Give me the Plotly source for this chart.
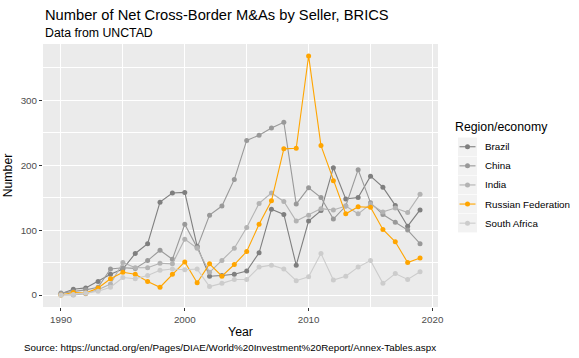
import plotly.graph_objects as go

years = list(range(1990, 2020))

brazil = [2, 9, 11, 21, 32, 40, 64, 79, 143, 157, 158, 75, 29, 30, 32, 37, 65, 132, 124, 46,
          114, 130, 196, 148, 150, 183, 166, 138, 106, 131]
china = [3, 5, 8, 12, 40, 42, 41, 53, 69, 55, 109, 73, 123, 137, 178, 238, 246, 257, 266, 140,
         165, 150, 117, 137, 193, 142, 124, 112, 100, 79]
india = [0, 0, 2, 8, 17, 50, 42, 42, 49, 48, 86, 72, 35, 53, 72, 104, 141, 157, 144, 114,
         123, 133, 131, 137, 125, 140, 128, 134, 127, 155]
russia = [0, 4, 3, 11, 25, 35, 32, 21, 12, 32, 51, 19, 48, 29, 47, 67, 109, 145, 225, 226,
          368, 230, 176, 125, 136, 135, 101, 82, 50, 57]
safrica = [0, 1, 3, 6, 12, 27, 25, 30, 38, 40, 39, 40, 13, 18, 24, 24, 43, 46, 40, 22,
           28, 64, 23, 29, 43, 53, 18, 33, 24, 36]

series_names = ["Brazil", "China", "India", "Russian Federation", "South Africa"]
series_values = [brazil, china, india, russia, safrica]
series_colors = ["#7F7F7F", "#999999", "#B3B3B3", "#FFA500", "#CCCCCC"]

x_ticks = [1990, 2000, 2010, 2020]
y_ticks = [0, 100, 200, 300]

title = "Number of Net Cross-Border M&As by Seller, BRICS"
subtitle = "Data from UNCTAD"
caption = "Source: https://unctad.org/en/Pages/DIAE/World%20Investment%20Report/Annex-Tables.aspx"
legend_title = "Region/economy"

W, H = 579, 358
PL, PR, PT, PB = 43, 438, 44, 307
FONT = "Liberation Sans, Arial, sans-serif"

def px_x(p):
    return (p - PL) / (PR - PL)

def px_y(p):
    return (PB - p) / (PB - PT)

fig = go.Figure()
for name, vals, col in zip(series_names, series_values, series_colors):
    fig.add_trace(go.Scatter(x=years, y=vals, name=name, mode="lines+markers",
                             line=dict(color=col, width=1.1),
                             marker=dict(color=col, size=5),
                             showlegend=False))

xmin, xmax = min(years), max(years)
xs = xmax - xmin
allv = [v for s in series_values for v in s]
ymin, ymax = min(allv), max(allv)
ys = ymax - ymin

axis_common = dict(showgrid=True, gridcolor="white", gridwidth=1.1, zeroline=False,
                   ticks="outside", ticklen=3, tickwidth=1.1, tickcolor="#333333",
                   tickfont=dict(family=FONT, size=9.8, color="#4D4D4D"),
                   showline=False, automargin=False)

fig.update_layout(
    width=W, height=H,
    margin=dict(l=PL, r=W - PR, t=PT, b=H - PB, pad=0, autoexpand=False),
    paper_bgcolor="white", plot_bgcolor="#EBEBEB",
    font=dict(family=FONT, color="black"),
    xaxis=dict(range=[xmin - 0.05 * xs, xmax + 0.05 * xs], tickvals=x_ticks,
               minor=dict(tickvals=[1995, 2005, 2015], showgrid=True, gridcolor="white",
                          gridwidth=0.55, ticks=""),
               title=dict(text="Year", font=dict(family=FONT, size=12.3, color="black"),
                          standoff=3),
               **axis_common),
    yaxis=dict(range=[ymin - 0.05 * ys, ymax + 0.05 * ys], tickvals=y_ticks,
               minor=dict(tickvals=[50, 150, 250, 350], showgrid=True, gridcolor="white",
                          gridwidth=0.55, ticks=""),
               title=dict(text="Number", font=dict(family=FONT, size=12.3, color="black"),
                          standoff=5),
               **axis_common),
    showlegend=False,
)

annotations = [
    dict(text=title, x=px_x(43), y=px_y(15), xref="paper", yref="paper", xanchor="left",
         yanchor="middle", showarrow=False, font=dict(family=FONT, size=14.7, color="black")),
    dict(text=subtitle, x=px_x(43), y=px_y(33), xref="paper", yref="paper", xanchor="left",
         yanchor="middle", showarrow=False, font=dict(family=FONT, size=12.3, color="black")),
    dict(text=caption, x=px_x(438), y=px_y(347), xref="paper", yref="paper", xanchor="right",
         yanchor="middle", showarrow=False, font=dict(family=FONT, size=9.8, color="black")),
    dict(text=legend_title, x=px_x(453), y=px_y(127), xref="paper", yref="paper",
         xanchor="left", yanchor="middle", showarrow=False,
         font=dict(family=FONT, size=12.3, color="black")),
]

shapes = []
key_top = 137.5
key_h = 19.1
for i, (name, col) in enumerate(zip(series_names, series_colors)):
    t = key_top + i * key_h
    b = t + key_h - 0.6
    cy = (t + b) / 2
    shapes.append(dict(type="rect", xref="paper", yref="paper",
                       x0=px_x(458), x1=px_x(477), y0=px_y(b), y1=px_y(t),
                       fillcolor="#F2F2F2", line=dict(width=0)))
    shapes.append(dict(type="line", xref="paper", yref="paper",
                       x0=px_x(459.5), x1=px_x(475.5), y0=px_y(cy), y1=px_y(cy),
                       line=dict(color=col, width=1.1)))
    shapes.append(dict(type="circle", xref="paper", yref="paper",
                       x0=px_x(467.5 - 2.5), x1=px_x(467.5 + 2.5),
                       y0=px_y(cy + 2.5), y1=px_y(cy - 2.5),
                       fillcolor=col, line=dict(width=0)))
    annotations.append(dict(text=name, x=px_x(483), y=px_y(cy), xref="paper", yref="paper",
                            xanchor="left", yanchor="middle", showarrow=False,
                            font=dict(family=FONT, size=9.8, color="black")))

fig.update_layout(annotations=annotations, shapes=shapes)
fig.write_html("out.html", config={"displayModeBar": False},
               post_script="document.body.style.margin='0';document.body.style.padding='0';")
